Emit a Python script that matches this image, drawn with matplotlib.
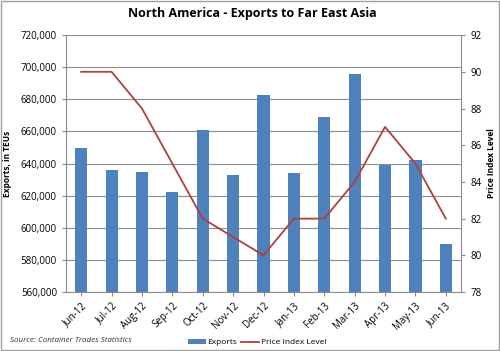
import matplotlib.pyplot as plt
from matplotlib.ticker import FuncFormatter
from matplotlib.patches import Rectangle

months = ['Jun-12', 'Jul-12', 'Aug-12', 'Sep-12', 'Oct-12', 'Nov-12', 'Dec-12',
          'Jan-13', 'Feb-13', 'Mar-13', 'Apr-13', 'May-13', 'Jun-13']
exports = [650000, 636000, 635000, 622000, 661000, 633000, 683000,
           634000, 669000, 696000, 639000, 642000, 590000]
price_index = [90, 90, 88, 85, 82, 81, 80, 82, 82, 84, 87, 85, 82]

bar_color = '#4F81BD'
line_color = '#B0403D'
grid_color = '#8C8C8C'

plt.rcParams['font.family'] = ['Open Sans', 'DejaVu Sans']

fig = plt.figure(figsize=(5, 3.51), dpi=100)
ax = fig.add_axes([0.132, 0.168, 0.79, 0.732])
x = list(range(len(months)))

b = ax.bar(x, exports, width=0.4, color=bar_color, label='Exports', zorder=2)
ax.set_ylim(560000, 720000)
ax.set_yticks(range(560000, 720001, 20000))
ax.yaxis.set_major_formatter(FuncFormatter(lambda v, p: f'{int(v):,}'))
ax.set_xlim(-0.5, len(months) - 0.5)
ax.set_xticks(x)
ax.set_xticklabels(months, rotation=45, ha='right', rotation_mode='anchor')
ax.grid(axis='y', color=grid_color, linewidth=0.8, zorder=0)
ax.set_ylabel('Exports, in TEUs', fontsize=6, fontweight='bold', labelpad=6)
ax.tick_params(axis='both', labelsize=7, length=3, color=grid_color)
ax.tick_params(axis='x', pad=3)
for s in ['top', 'right']:
    ax.spines[s].set_visible(False)
for s in ['left', 'bottom']:
    ax.spines[s].set_color(grid_color)

ax2 = ax.twinx()
l, = ax2.plot(x, price_index, color=line_color, linewidth=1.3, label='Price Index Level')
ax2.set_ylim(78, 92)
ax2.set_yticks(range(78, 93, 2))
ax2.set_ylabel('Price Index Level', fontsize=6, fontweight='bold', labelpad=4)
ax2.tick_params(axis='y', labelsize=7, length=3, color=grid_color)
for s in ['top', 'left', 'bottom']:
    ax2.spines[s].set_visible(False)
ax2.spines['right'].set_color(grid_color)

fig.suptitle('North America - Exports to Far East Asia', x=0.505, y=0.98,
             fontsize=9, fontweight='bold')
fig.text(0.02, 0.025, 'Source: Container Trades Statistics', fontsize=5.8,
         style='italic', color='#333333')
fig.legend([b, l], ['Exports', 'Price Index Level'], loc='lower left',
           bbox_to_anchor=(0.36, -0.008), ncol=2, frameon=False, fontsize=6,
           handlelength=2.2, handleheight=0.6, columnspacing=0.4, handletextpad=0.2)

fig.patches.append(Rectangle((0.002, 0.003), 0.996, 0.994, transform=fig.transFigure,
                             fill=False, edgecolor='#A0A0A0', linewidth=1))

fig.savefig('out.png', dpi=100)
